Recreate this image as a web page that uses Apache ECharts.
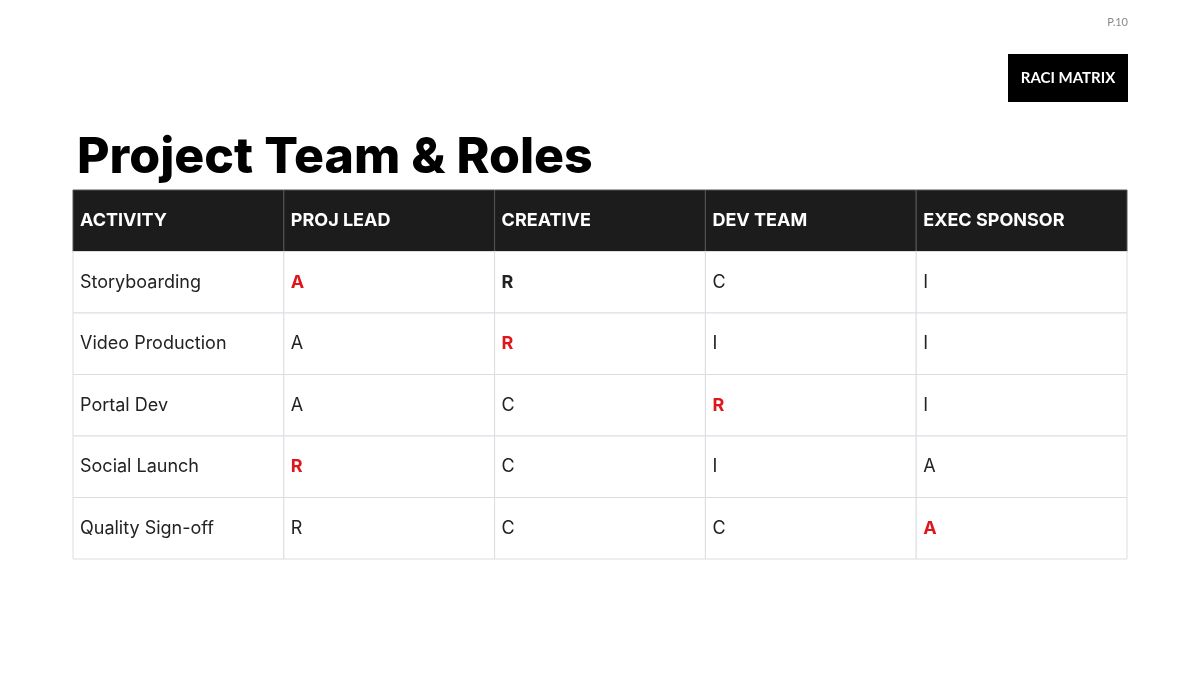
<!DOCTYPE html>
<html>
<head>
<meta charset="utf-8">
<script src="https://cdn.jsdelivr.net/npm/echarts@6/dist/echarts.min.js"></script>
<style>html,body{margin:0;background:#fff}#main{width:1200px;height:675px}</style>
</head>
<body>
<div id="main"></div>
<script>
var columns = ['ACTIVITY', 'PROJ LEAD', 'CREATIVE', 'DEV TEAM', 'EXEC SPONSOR'];
var activities = ['Storyboarding', 'Video Production', 'Portal Dev', 'Social Launch', 'Quality Sign-off'];
var projLead = ['A', 'A', 'A', 'R', 'R'];
var creative = ['R', 'R', 'C', 'C', 'C'];
var devTeam = ['C', 'I', 'R', 'I', 'C'];
var execSponsor = ['I', 'I', 'I', 'A', 'A'];
// emphasis per cell: 'red' = bold red, 'bold' = bold dark, '' = plain
var emphasis = [
    ['', 'red', 'bold', '', ''],
    ['', '', 'red', '', ''],
    ['', '', '', 'red', ''],
    ['', 'red', '', '', ''],
    ['', '', '', '', 'red']
];

var rowKeys = ['header'].concat(activities);
var cells = [];
columns.forEach(function (c, ci) {
    cells.push([ci, 0, c, 'head']);
});
activities.forEach(function (a, ri) {
    var vals = [a, projLead[ri], creative[ri], devTeam[ri], execSponsor[ri]];
    vals.forEach(function (v, ci) {
        cells.push([ci, ri + 1, v, emphasis[ri][ci]]);
    });
});

var chart = echarts.init(document.getElementById('main'));
chart.setOption({
    title: {
        text: 'Project Team & Roles',
        left: 72, top: 128,
        textStyle: { fontFamily: 'Inter', fontWeight: 800, fontSize: 50, color: '#000' }
    },
    grid: { left: 73, right: 73, top: 190, bottom: 116 },
    xAxis: { type: 'category', data: columns, show: false },
    yAxis: { type: 'category', data: rowKeys, inverse: true, show: false },
    graphic: [
        { type: 'text', right: 72, top: 17, style: { text: 'P.10', fontFamily: 'Lato', fontSize: 11, fill: '#888' } },
        { type: 'rect', shape: { x: 1008, y: 54, width: 120, height: 48 }, style: { fill: '#000' } },
        { type: 'text', x: 1068, y: 78, style: { text: 'RACI MATRIX', fontFamily: 'Lato', fontWeight: 'bold', fontSize: 15, fill: '#fff', align: 'center', verticalAlign: 'middle' } }
    ],
    series: [{
        type: 'custom',
        data: cells,
        renderItem: function (params, api) {
            var p = api.coord([api.value(0), api.value(1)]);
            var s = api.size([1, 1]);
            var kind = cells[params.dataIndex][3];
            var text = cells[params.dataIndex][2];
            var isHead = kind === 'head';
            var x0 = p[0] - s[0] / 2, y0 = p[1] - s[1] / 2;
            return {
                type: 'group',
                children: [{
                    type: 'rect',
                    shape: { x: x0, y: y0, width: s[0], height: s[1] },
                    style: { fill: isHead ? '#1c1c1c' : '#fff', stroke: isHead ? '#555' : '#dcdde3', lineWidth: 1 }
                }, {
                    type: 'text',
                    x: x0 + 7, y: p[1],
                    style: {
                        text: text,
                        fontFamily: 'Inter',
                        fontSize: 18,
                        fontWeight: (isHead || kind === 'red' || kind === 'bold') ? 'bold' : 'normal',
                        fill: isHead ? '#fff' : (kind === 'red' ? '#e0161d' : '#222'),
                        verticalAlign: 'middle'
                    }
                }]
            };
        }
    }]
});
</script>
</body>
</html>
